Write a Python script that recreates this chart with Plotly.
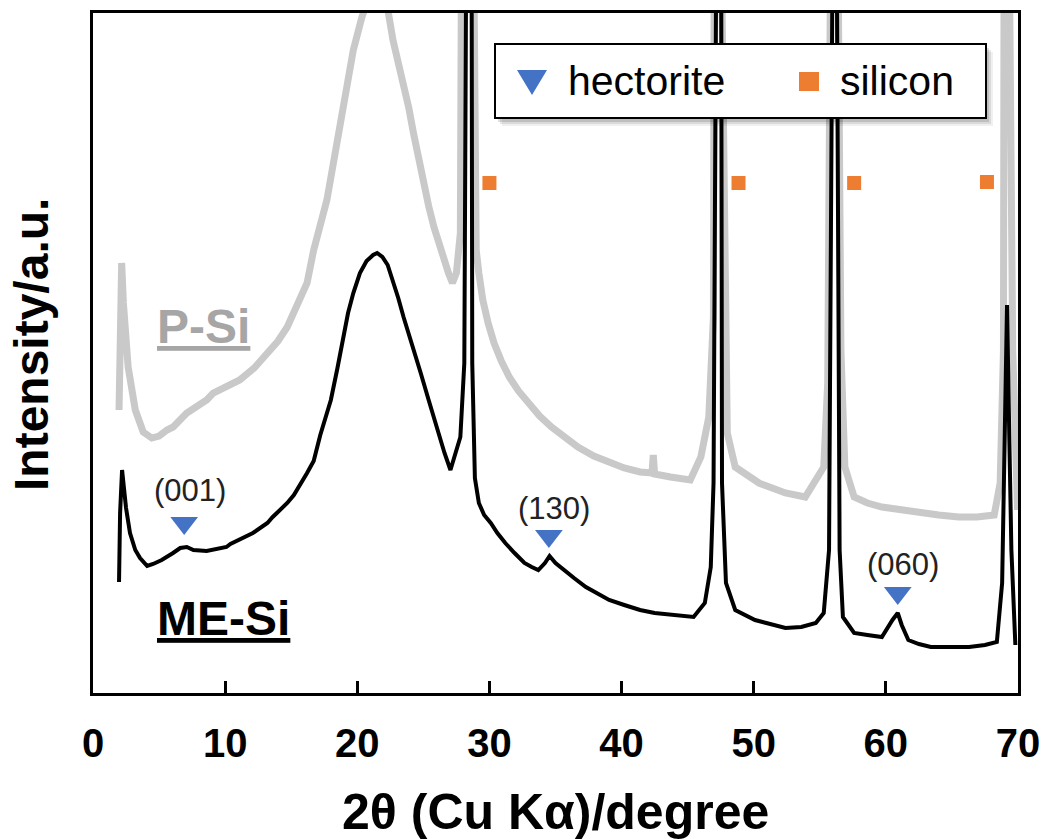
import plotly.graph_objects as go

# ---------------- data ----------------
# ME-Si pattern (black)
me_two_theta = [1.97, 2.05, 2.2, 2.5, 2.8, 3.2, 3.56, 4.1, 4.55, 5.2, 6.06, 6.6, 7.1, 7.6, 8.6, 9.3,
                10.1, 10.4, 11.6, 12.1, 13.2, 13.6, 14.7, 15.2, 16.2, 16.7, 17.2, 17.6, 18.0, 18.5,
                18.9, 19.3, 19.7, 20.2, 20.7, 21.2, 21.5, 21.9, 22.3, 22.7, 23.1, 23.5, 24.2, 24.8,
                25.4, 26.0, 26.6, 27.05, 27.4, 27.8, 28.1, 28.3, 28.44, 28.58, 28.7, 28.9, 29.2,
                29.6, 30.1, 30.6, 31.2, 31.9, 32.65, 33.2, 33.7, 34.2, 34.55, 35.0, 35.6, 36.4,
                37.3, 38.2, 39.06, 40.2, 41.4, 42.5, 43.7, 44.6, 45.45, 46.3, 46.75, 46.96, 47.15,
                47.33, 47.5, 47.6, 47.9, 48.6, 50.1, 51.2, 52.4, 53.6, 54.7, 55.3, 55.7, 55.95,
                56.12, 56.3, 56.5, 56.75, 57.6, 58.6, 59.7, 60.5, 60.9, 61.2, 61.7, 62.5, 63.4,
                64.8, 66.3, 67.5, 68.4, 68.8, 69.0, 69.17, 69.35, 69.5, 69.8]
me_intensity = [111, 180, 223, 185, 160, 143, 135, 127, 129, 133, 140, 145, 146, 143, 142, 144,
                146, 149, 156, 160, 170, 176, 190, 198, 220, 232, 258, 274, 293, 325,
                355, 380, 400, 420, 432, 438, 440, 436, 428, 412, 395, 376, 347, 320,
                293, 266, 240, 223, 238, 256, 330, 900, 2500, 900, 330, 215, 190,
                178, 170, 160, 150, 140, 130, 126, 123, 130, 137, 130, 123, 115,
                106, 99, 93, 88, 83, 80, 78, 77, 76, 90, 126, 210, 700,
                2500, 700, 210, 110, 83, 73, 69, 65, 66, 70, 80, 143, 700,
                2500, 700, 143, 76, 60, 58, 56, 73, 80, 68, 53, 49, 46,
                46, 46, 48, 51, 110, 243, 388, 250, 143, 48]

# P-Si pattern (grey)
p_two_theta = [1.97, 2.08, 2.17, 2.3, 2.66, 3.2, 3.8, 4.45, 5.0, 5.6, 6.06, 7.1, 8.6, 9.1, 10.1,
               11.1, 12.2, 13.2, 14.0, 14.7, 15.4, 16.2, 16.7, 17.2, 17.7, 18.1, 18.5, 18.9, 19.2,
               19.7, 20.35, 21.0, 21.5, 22.1, 22.7, 23.1, 23.5, 23.9, 24.25, 24.6, 25.0, 25.4,
               25.8, 26.2, 26.5, 26.9, 27.2, 27.5, 27.8, 28.05, 28.2, 28.42, 28.65, 29.0, 29.2,
               29.5, 29.9, 30.35, 30.9, 31.5, 32.2, 32.9, 33.8, 34.7, 35.7, 36.7, 37.9, 39.06,
               40.2, 41.4, 42.3, 42.4, 42.5, 43.7, 45.2, 46.0, 46.6, 46.95, 47.1, 47.3, 47.5,
               47.8, 48.0, 48.6, 49.5, 50.4, 51.4, 52.4, 53.9, 54.3, 54.6, 55.3, 55.6, 55.85,
               56.1, 56.35, 56.6, 56.9, 57.6, 58.6, 59.7, 61.1, 62.6, 64.0, 65.5, 66.9, 68.2,
               68.65, 68.9, 69.0, 69.15, 69.3, 69.6, 69.97]
p_intensity = [283, 400, 430, 390, 326, 283, 261, 255, 257, 263, 266, 280, 293, 300, 306,
               313, 325, 340, 352, 366, 388, 410, 443, 468, 493, 523, 553, 580, 600,
               643, 676, 700, 705, 700, 653, 632, 610, 585, 560, 535, 510, 487,
               466, 447, 433, 420, 410, 420, 460, 593, 1000, 2500, 1000, 443, 420,
               393, 370, 350, 332, 316, 302, 290, 277, 266, 255, 246, 237, 230,
               225, 221, 220, 238, 219, 216, 213, 236, 276, 376, 800, 2500, 800,
               376, 260, 226, 217, 210, 205, 200, 196, 204, 210, 226, 310, 800,
               2500, 800, 343, 226, 196, 190, 186, 183, 180, 178, 176, 176, 178,
               210, 343, 800, 2500, 800, 343, 183]

# reflection markers
hectorite_two_theta = [6.9, 34.5, 60.9]
hectorite_level = [170, 157, 100]
hectorite_labels = ["(001)", "(130)", "(060)"]
hectorite_label_two_theta = [7.35, 34.85, 61.26]
hectorite_label_level = [203, 185, 129]

silicon_two_theta = [30.0, 48.85, 57.6, 67.65]
silicon_level = [510, 510, 510, 511]

x_ticks = [0, 10, 20, 30, 40, 50, 60, 70]

# ---------------- layout geometry ----------------
W, H = 1046, 839
L, R, T, B = 93, 1018, 13, 693
FONT = "Liberation Sans, Arial, sans-serif"


def px2paper_x(px):
    return (px - L) / (R - L)


def py2paper_y(py):
    return (B - py) / (B - T)


BLUE = "#4472C4"
ORANGE = "#ED7D31"
GREY = "#c9c9c9"

fig = go.Figure()

fig.add_trace(go.Scatter(x=p_two_theta, y=p_intensity, mode="lines",
                         line=dict(color=GREY, width=7), showlegend=False, hoverinfo="skip"))
fig.add_trace(go.Scatter(x=me_two_theta, y=me_intensity, mode="lines",
                         line=dict(color="black", width=4), showlegend=False, hoverinfo="skip"))
fig.add_trace(go.Scatter(x=hectorite_two_theta, y=hectorite_level, mode="markers",
                         marker=dict(symbol="triangle-down", size=24, color=BLUE),
                         name="hectorite", showlegend=False))
fig.add_trace(go.Scatter(x=silicon_two_theta, y=silicon_level, mode="markers",
                         marker=dict(symbol="square", size=14, color=ORANGE),
                         name="silicon", showlegend=False))

annotations = []
for t, xx, yy in zip(hectorite_labels, hectorite_label_two_theta, hectorite_label_level):
    annotations.append(dict(x=xx, y=yy, xref="x", yref="y", text=t, showarrow=False,
                            font=dict(family=FONT, size=31, color="#222222"),
                            xanchor="center", yanchor="middle"))

annotations.append(dict(x=4.7, y=367, xref="x", yref="y", text="<u>P-Si</u>", showarrow=False,
                        font=dict(family=FONT, size=48, color="#a6a6a6", weight="bold"),
                        xanchor="left", yanchor="middle"))
annotations.append(dict(x=4.7, y=75, xref="x", yref="y", text="<u>ME-Si</u>", showarrow=False,
                        font=dict(family=FONT, size=48, color="black", weight="bold"),
                        xanchor="left", yanchor="middle"))

# axis titles
annotations.append(dict(x=0.5, y=py2paper_y(812), xref="paper", yref="paper",
                        text="2θ (Cu Kα)/degree", showarrow=False,
                        font=dict(family=FONT, size=50, color="black", weight="bold"),
                        xanchor="center", yanchor="middle"))
annotations.append(dict(x=px2paper_x(31), y=py2paper_y(345), xref="paper", yref="paper",
                        text="Intensity/a.u.", showarrow=False, textangle=-90,
                        font=dict(family=FONT, size=48, color="black", weight="bold"),
                        xanchor="center", yanchor="middle"))

# legend texts
annotations.append(dict(x=px2paper_x(566), y=py2paper_y(81), xref="paper", yref="paper",
                        text="hectorite", showarrow=False,
                        font=dict(family=FONT, size=41, color="black"),
                        xanchor="left", yanchor="middle"))
annotations.append(dict(x=px2paper_x(838), y=py2paper_y(81), xref="paper", yref="paper",
                        text="silicon", showarrow=False,
                        font=dict(family=FONT, size=41, color="black"),
                        xanchor="left", yanchor="middle"))

shapes = []
# legend shadow
for off, op in [(7, 0.06), (5, 0.09), (3, 0.12)]:
    shapes.append(dict(type="rect", xref="paper", yref="paper",
                       x0=px2paper_x(495 + off), x1=px2paper_x(986 + off),
                       y0=py2paper_y(118 + off + 1), y1=py2paper_y(44 + off + 1),
                       line=dict(width=0), fillcolor=f"rgba(0,0,0,{op})"))
# legend box
shapes.append(dict(type="rect", xref="paper", yref="paper",
                   x0=px2paper_x(495), x1=px2paper_x(986),
                   y0=py2paper_y(118), y1=py2paper_y(44),
                   line=dict(color="black", width=2), fillcolor="white"))
# legend triangle
tx, ty = 532, 82
path = "M {} {} L {} {} L {} {} Z".format(
    px2paper_x(tx - 15), py2paper_y(ty - 12), px2paper_x(tx + 15), py2paper_y(ty - 12),
    px2paper_x(tx), py2paper_y(ty + 13))
shapes.append(dict(type="path", xref="paper", yref="paper", path=path,
                   fillcolor=BLUE, line=dict(width=0)))
# legend square
shapes.append(dict(type="rect", xref="paper", yref="paper",
                   x0=px2paper_x(799), x1=px2paper_x(819),
                   y0=py2paper_y(91), y1=py2paper_y(72),
                   fillcolor=ORANGE, line=dict(width=0)))

fig.update_layout(
    width=W, height=H,
    margin=dict(l=L, r=W - R, t=T, b=H - B, pad=0, autoexpand=False),
    paper_bgcolor="white", plot_bgcolor="white",
    showlegend=False,
    annotations=annotations,
    shapes=shapes,
    font=dict(family=FONT, color="black"),
)
fig.update_xaxes(range=[0, 70], tickmode="array", tickvals=x_ticks,
                 ticktext=[str(v) for v in x_ticks], automargin=False,
                 ticks="inside", ticklen=12, tickwidth=2.5, tickcolor="black",
                 showline=True, linewidth=3, linecolor="black", mirror=True,
                 showgrid=False, zeroline=False,
                 tickfont=dict(family=FONT, size=40, color="black", weight="bold"),
                 ticklabelstandoff=13)
fig.update_yaxes(range=[0, 680], showticklabels=False, ticks="", automargin=False,
                 showline=True, linewidth=3, linecolor="black", mirror=True,
                 showgrid=False, zeroline=False)

fig.write_html("out.html")
